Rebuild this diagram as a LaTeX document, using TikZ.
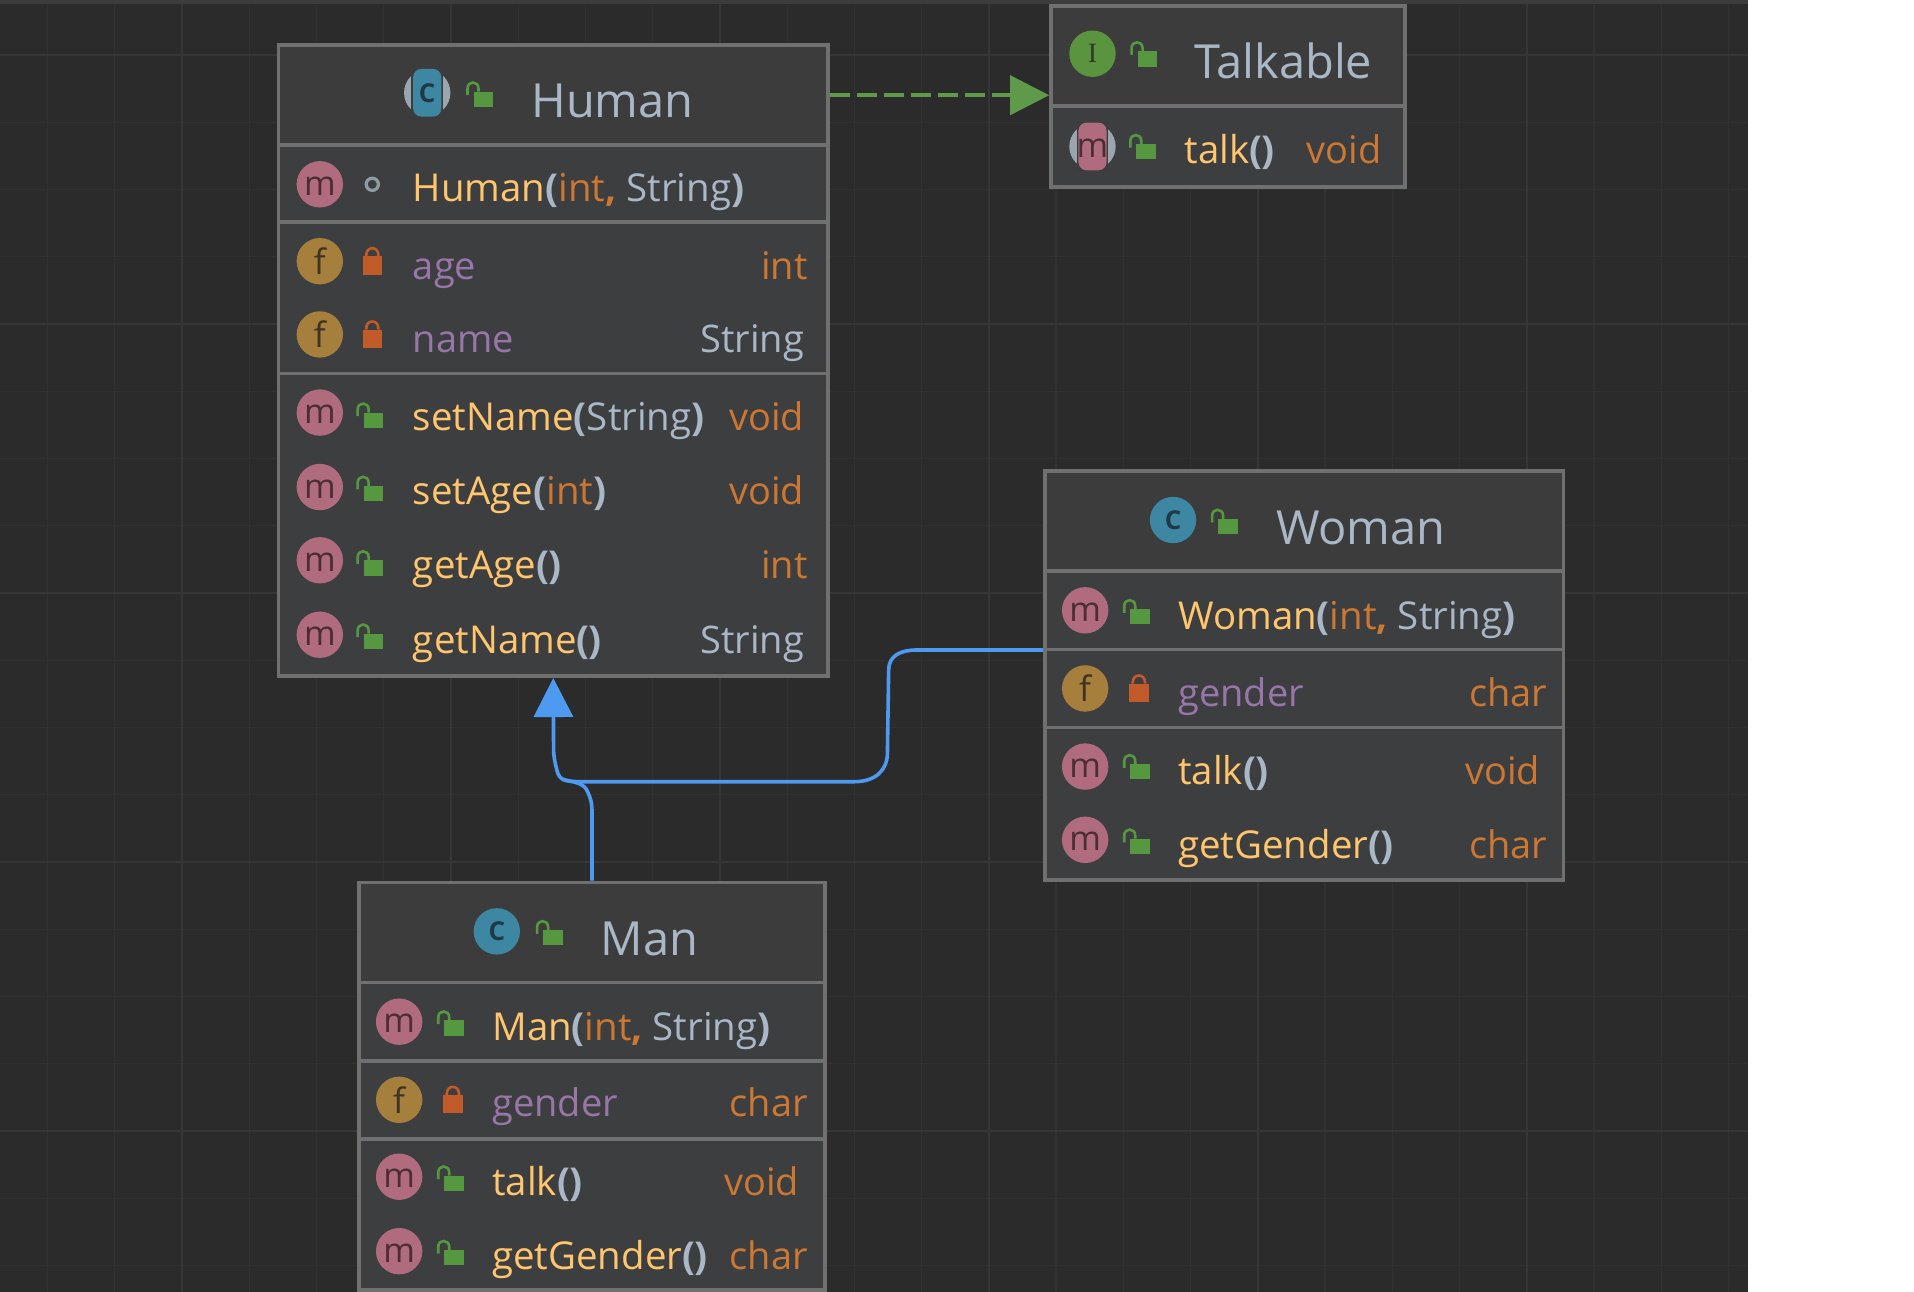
\documentclass[tikz,border=0pt]{standalone}
\usepackage{fontspec}
\setmainfont{Open Sans}
\newfontfamily\serifico{Liberation Serif}
\usetikzlibrary{arrows.meta,fit,calc}
\definecolor{bgc}{HTML}{2B2B2B}
\definecolor{gridmin}{HTML}{313131}
\definecolor{gridmaj}{HTML}{363636}
\definecolor{headc}{HTML}{3C3C3C}
\definecolor{bodyc}{HTML}{3D3E40}
\definecolor{borderc}{HTML}{707070}
\definecolor{cmeth}{HTML}{FFC66D}
\definecolor{cplain}{HTML}{A9B7C6}
\definecolor{ckey}{HTML}{CC7832}
\definecolor{cfield}{HTML}{9876AA}
\definecolor{mpink}{HTML}{B06C7E}
\definecolor{mdark}{HTML}{4A2E34}
\definecolor{fgold}{HTML}{A67F3D}
\definecolor{fdark}{HTML}{3F3322}
\definecolor{cteal}{HTML}{3E87A3}
\definecolor{cdark}{HTML}{1E3A48}
\definecolor{igreen}{HTML}{5A943F}
\definecolor{idark}{HTML}{2E3A26}
\definecolor{lgreen}{HTML}{56983F}
\definecolor{lred}{HTML}{C15B29}
\definecolor{ringc}{HTML}{8E9CA5}
\definecolor{absgray}{HTML}{9AA5AE}
\definecolor{dashg}{HTML}{5F9A4A}
\definecolor{blueln}{HTML}{4E9AF1}
\tikzset{
  x=0.61035pt,y=-0.61035pt,
  umlbox/.style={draw=borderc,fill=bodyc,line width=1.8pt,inner sep=0pt,rectangle},
  sepline/.style={draw=borderc,line width=1.8pt},
  titletxt/.style={anchor=base west,inner sep=0pt,font=\fontsize{23.5}{26}\selectfont,text=cplain},
  rowtxt/.style={anchor=base west,inner sep=0pt,font=\fontsize{19.2}{23}\selectfont},
  fieldtxt/.style={anchor=base west,inner sep=0pt,font=\fontsize{19}{23}\selectfont,text=cfield},
  typetxt/.style={anchor=base east,inner sep=0pt,xshift=0.6pt,font=\fontsize{19}{23}\selectfont},
  icondisc/.style={circle,inner sep=0pt,minimum size=23.2pt},
  letterm/.style={font=\fontsize{17}{18}\selectfont,text=mdark,text height=11pt,text depth=0pt},
  letterf/.style={font=\fontsize{17.5}{18}\selectfont,text=fdark},
  letterc/.style={font=\bfseries\fontsize{13}{15}\selectfont,text=cdark},
  letteri/.style={font=\serifico\fontsize{14}{16}\selectfont,text=idark},
  realize/.style={-{Triangle[length=19.5pt,width=19.5pt]},draw=blueln,line width=1.8pt},
  joinline/.style={draw=blueln,line width=1.8pt},
  implement/.style={-{Triangle[length=19.5pt,width=19.5pt]},draw=dashg,line width=2pt,dash pattern=on 10pt off 3.5pt},
}
\newcommand\iconM[3]{\node[icondisc,fill=mpink,letterm] (#1) at (#2,#3) {m};}
\newcommand\iconF[3]{\node[icondisc,fill=fgold,letterf] (#1) at (#2,#3) {f};}
\newcommand\iconC[3]{\node[icondisc,fill=cteal,letterc] (#1) at (#2,#3) {C};}
\newcommand\iconAbs[3]{%
  \fill[absgray] (#1,#2) circle[radius=19];
  \fill[headc] (#1-13,#2-20) rectangle (#1+13,#2+20);
  \fill[#3,rounded corners=4pt] (#1-11.5,#2-19.5) rectangle (#1+11.5,#2+19.5);
}
\newcommand\lockG[2]{%
  \fill[lgreen] (#1-5,#2-2) rectangle (#1+11,#2+10.5);
  \draw[lgreen,line width=1.3pt] (#1-10,#2+1) -- (#1-10,#2-4.5) .. controls (#1-10,#2-11) and (#1-1,#2-11) .. (#1-1,#2-4.5) -- (#1-1,#2-2);
}
\newcommand\lockR[2]{%
  \fill[lred] (#1-8,#2-4) rectangle (#1+8,#2+11);
  \draw[lred,line width=1.3pt] (#1-5,#2-4) -- (#1-5,#2-5) .. controls (#1-5,#2-12.5) and (#1+5,#2-12.5) .. (#1+5,#2-5) -- (#1+5,#2-4);
}
\newcommand\umlframe[6]{% name x1 y1 x2 y2 headbottom
  \node[umlbox,fit={(#2,#3)(#4,#5)}] (#1) {};
  \fill[headc] (#2+1.5,#3+1.5) rectangle (#4-1.5,#6);
}
\newcommand\sepat[2]{\draw[sepline] (#1.west |- 0,#2) -- (#1.east |- 0,#2);}
\newcommand\POpen{\textcolor{cplain}{\bfseries(}}
\newcommand\PClose{\textcolor{cplain}{\bfseries)}}
\newcommand\PBoth{\POpen\kern-0.02em\PClose}
\newcommand\ArgList{\textcolor{ckey}{int\textbf{,}} \textcolor{cplain}{String}\PClose}
\begin{document}
\begin{tikzpicture}
\useasboundingbox (0,0) rectangle (1568,1058.4);
\fill[white] (0,0) rectangle (1568,1058.4);
\fill[bgc] (0,0) rectangle (1432,1058.4);
\fill[headc] (0,0) rectangle (1432,3);
% grid
\foreach \k in {-2,...,23}{
  \draw[gridmin,line width=0.6pt] ({149+55.09*\k},3) -- ({149+55.09*\k},1058.4);
}
\foreach \k in {0,...,18}{
  \draw[gridmin,line width=0.6pt] (0,{45+55.09*\k}) -- (1432,{45+55.09*\k});
}
\foreach \k in {0,...,5}{
  \draw[gridmaj,line width=0.8pt] ({149+220.4*\k},3) -- ({149+220.4*\k},1058.4);
}
\foreach \k in {0,...,4}{
  \draw[gridmaj,line width=0.8pt] (0,{45+220.4*\k}) -- (1432,{45+220.4*\k});
}

% ---------- Human
\umlframe{human}{228}{37}{678.5}{554}{119}
\sepat{human}{119}\sepat{human}{182}\sepat{human}{306}
\iconAbs{350}{76}{cteal}
\node[icondisc,letterc] (humanCl) at (350,76) {C};
\lockG{393}{77}
\node[titletxt] (humanT) at (435,96) {Human};
\iconM{hi1}{262}{151}
\draw[ringc,line width=1.6pt] (305,151) circle[radius=5];
\node[rowtxt] (ht1) at (338,165) {\textcolor{cmeth}{Human}\POpen\ArgList};
\iconF{hi2}{262}{214}\lockR{305}{214}
\node[fieldtxt] (ht2) at (338,229) {age};
\node[typetxt,text=ckey] (hy2) at (661,229) {int};
\iconF{hi3}{262}{274}\lockR{305}{274}
\node[fieldtxt] (ht3) at (338,289) {name};
\node[typetxt,text=cplain] (hy3) at (658,289) {String};
\iconM{hi4}{262}{338}\lockG{303}{340}
\node[rowtxt] (ht4) at (338,353) {\textcolor{cmeth}{setName}\POpen\textcolor{cplain}{String}\PClose};
\node[typetxt,text=ckey] (hy4) at (658,353) {void};
\iconM{hi5}{262}{399}\lockG{303}{400}
\node[rowtxt] (ht5) at (338,413) {\textcolor{cmeth}{setAge}\POpen\textcolor{ckey}{int}\PClose};
\node[typetxt,text=ckey] (hy5) at (658,413) {void};
\iconM{hi6}{262}{459}\lockG{303}{461}
\node[rowtxt] (ht6) at (338,474) {\textcolor{cmeth}{getAge}\PBoth};
\node[typetxt,text=ckey] (hy6) at (661,474) {int};
\iconM{hi7}{262}{520}\lockG{303}{521}
\node[rowtxt] (ht7) at (338,535) {\textcolor{cmeth}{getName}\PBoth};
\node[typetxt,text=cplain] (hy7) at (658,535) {String};

% ---------- Talkable
\umlframe{talkable}{861}{5}{1151}{153}{87}
\sepat{talkable}{87}
\node[icondisc,fill=igreen,letteri] (ti0) at (895,44) {I};
\lockG{937}{44}
\node[titletxt] (talkT) at (978,64) {Talkable};
\iconAbs{895}{120}{mpink}
\node[icondisc,letterm] (ti1) at (895,120) {m};
\lockG{936}{120}
\node[rowtxt] (tt1) at (970,134) {\textcolor{cmeth}{talk}\PBoth};
\node[typetxt,text=ckey] (ty1) at (1131,134) {void};

% ---------- Woman
\umlframe{woman}{856}{386}{1281}{721}{468}
\sepat{woman}{468}\sepat{woman}{532}\sepat{woman}{596}
\iconC{wi0}{961}{426}\lockG{1003}{427}
\node[titletxt] (womanT) at (1045,446) {Woman};
\iconM{wi1}{889}{500}\lockG{931}{501}
\node[rowtxt] (wt1) at (965,516) {\textcolor{cmeth}{Woman}\POpen\ArgList};
\iconF{wi2}{889}{564}\lockR{933}{564}
\node[fieldtxt] (wt2) at (965,579) {gender};
\node[typetxt,text=ckey] (wy2) at (1267,579) {char};
\iconM{wi3}{889}{628}\lockG{931}{628}
\node[rowtxt] (wt3) at (965,643) {\textcolor{cmeth}{talk}\PBoth};
\node[typetxt,text=ckey] (wy3) at (1261,643) {void};
\iconM{wi4}{889}{688}\lockG{931}{689}
\node[rowtxt] (wt4) at (965,703) {\textcolor{cmeth}{getGender}\PBoth};
\node[typetxt,text=ckey] (wy4) at (1267,703) {char};

% ---------- Man
\umlframe{man}{294}{723}{676}{1057}{805}
\sepat{man}{805}\sepat{man}{869}\sepat{man}{933}
\iconC{mi0}{407}{763}\lockG{450}{764}
\node[titletxt] (manT) at (492,783) {Man};
\iconM{mi1}{327}{837}\lockG{369}{838}
\node[rowtxt] (mt1) at (403,852) {\textcolor{cmeth}{Man}\POpen\ArgList};
\iconF{mi2}{327}{901}\lockR{371}{901}
\node[fieldtxt] (mt2) at (403,915) {gender};
\node[typetxt,text=ckey] (my2) at (661,915) {char};
\iconM{mi3}{327}{964}\lockG{369}{965}
\node[rowtxt] (mt3) at (403,979) {\textcolor{cmeth}{talk}\PBoth};
\node[typetxt,text=ckey] (my3) at (654,979) {void};
\iconM{mi4}{327}{1025}\lockG{369}{1026}
\node[rowtxt] (mt4) at (403,1040) {\textcolor{cmeth}{getGender}\PBoth};
\node[typetxt,text=ckey] (my4) at (661,1040) {char};

% ---------- connectors
\draw[implement] ($(human.east |- talkable.west)+(0,-1)$) -- ($(talkable.west)+(0,-1)$);
\draw[joinline] (man.north) -- (485,666)
  .. controls (485,658) and (484,654) .. (481.4,648.6)
  .. controls (480,645) and (477,643) .. (474,641.8)
  .. controls (470,640) and (465,640) .. (461.3,638.4);
\draw[realize] ($(woman.west)+(0,-21)$) -- (751,532.5)
  .. controls (738,532.5) and (728,537) .. (728,549)
  -- (727,617)
  .. controls (727,631) and (717,640.4) .. (700,640.4)
  -- (477,640.4)
  .. controls (470,640.4) and (464,640) .. (461,638.5)
  .. controls (457,636) and (456.5,632) .. (455.5,628)
  .. controls (454,622) and (453.5,618) .. (453.5,612)
  -- (human.south);
\end{tikzpicture}
\end{document}
